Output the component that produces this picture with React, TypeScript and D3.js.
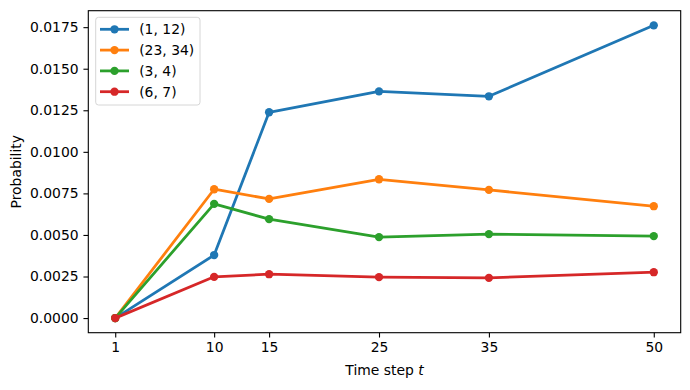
import React, { useEffect, useRef } from "react";
import * as d3 from "d3";

// time steps on the x axis
const steps = [1, 10, 15, 25, 35, 50];

// series names (legend)
const names = ["(1, 12)", "(23, 34)", "(3, 4)", "(6, 7)"];

// probability values, one array per series
const s1_12 = [0, 0.00379, 0.01238, 0.01364, 0.01334, 0.01761];
const s23_34 = [0, 0.00775, 0.00717, 0.00835, 0.00771, 0.00673];
const s3_4 = [0, 0.00687, 0.00595, 0.00487, 0.00505, 0.00493];
const s6_7 = [0, 0.00248, 0.00264, 0.00246, 0.00242, 0.00276];

const yTicks = [0, 0.0025, 0.005, 0.0075, 0.01, 0.0125, 0.015, 0.0175];

const colors = ["#1f77b4", "#ff7f0e", "#2ca02c", "#d62728"];

const App = () => {
  const svgRef = useRef<SVGSVGElement>(null);

  useEffect(() => {
    const svg = d3.select(svgRef.current);
    svg.selectAll("*").remove();

    const width = 690;
    const height = 390;
    const margin = { top: 10.7, right: 9.3, bottom: 57.3, left: 88.3 };
    const font = "DejaVu Sans, sans-serif";
    const fs = 13.9;

    const series = [s1_12, s23_34, s3_4, s6_7];

    // matplotlib default 5% margins
    const xMin = d3.min(steps)!, xMax = d3.max(steps)!;
    const xPad = (xMax - xMin) * 0.05;
    const yMax = d3.max(series.flat())!;
    const yPad = yMax * 0.05;

    const x = d3.scaleLinear()
      .domain([xMin - xPad, xMax + xPad])
      .range([margin.left, width - margin.right]);

    const y = d3.scaleLinear()
      .domain([-yPad, yMax + yPad])
      .range([height - margin.bottom, margin.top]);

    svg.attr("width", width).attr("height", height);

    const g = svg.append("g");

    // lines + markers
    const line = d3.line<number>()
      .x((_, i) => x(steps[i]))
      .y(d => y(d));

    series.forEach((vals, k) => {
      g.append("path")
        .datum(vals)
        .attr("d", line)
        .attr("fill", "none")
        .attr("stroke", colors[k])
        .attr("stroke-width", 2.78)
        .attr("stroke-linejoin", "round")
        .attr("stroke-linecap", "square");
      g.selectAll(null)
        .data(vals)
        .enter()
        .append("circle")
        .attr("cx", (_, i) => x(steps[i]))
        .attr("cy", d => y(d))
        .attr("r", 4.17)
        .attr("fill", colors[k]);
    });

    // axes
    const xAxis = svg.append("g")
      .attr("transform", `translate(0,${height - margin.bottom})`)
      .call(d3.axisBottom(x).tickValues(steps).tickFormat(d3.format("d")).tickSize(4.86).tickPadding(4.86).tickSizeOuter(0));

    const yAxis = svg.append("g")
      .attr("transform", `translate(${margin.left},0)`)
      .call(d3.axisLeft(y).tickValues(yTicks).tickFormat(d3.format(".4f")).tickSize(4.86).tickPadding(4.86).tickSizeOuter(0));

    [xAxis, yAxis].forEach(a => {
      a.select(".domain").remove();
      a.selectAll("line").attr("stroke", "black").attr("stroke-width", 1.1);
      a.selectAll("text").attr("fill", "black").style("font-family", font).style("font-size", fs + "px");
    });

    // frame
    svg.append("rect")
      .attr("x", margin.left)
      .attr("y", margin.top)
      .attr("width", width - margin.left - margin.right)
      .attr("height", height - margin.top - margin.bottom)
      .attr("fill", "none")
      .attr("stroke", "black")
      .attr("stroke-width", 1.1);

    // axis labels
    const xl = svg.append("text")
      .attr("x", (margin.left + width - margin.right) / 2)
      .attr("y", 375)
      .attr("text-anchor", "middle")
      .style("font-family", font)
      .style("font-size", fs + "px");
    xl.append("tspan").text("Time step ");
    xl.append("tspan").style("font-style", "italic").text("t");

    svg.append("text")
      .attr("transform", `translate(21,${(margin.top + height - margin.bottom) / 2}) rotate(-90)`)
      .attr("text-anchor", "middle")
      .style("font-family", font)
      .style("font-size", fs + "px")
      .text("Probability");

    // legend
    const lg = svg.append("g").attr("transform", "translate(95.7,17.3)");
    lg.append("rect")
      .attr("width", 104.3)
      .attr("height", 87.7)
      .attr("rx", 2.8)
      .attr("fill", "white")
      .attr("fill-opacity", 0.8)
      .attr("stroke", "#d6d6d6")
      .attr("stroke-width", 1);

    names.forEach((name, k) => {
      const ey = 12 + k * 20.8;
      lg.append("line")
        .attr("x1", 4.3).attr("x2", 33.3)
        .attr("y1", ey).attr("y2", ey)
        .attr("stroke", colors[k])
        .attr("stroke-width", 2.78);
      lg.append("circle")
        .attr("cx", 18.8).attr("cy", ey).attr("r", 4.17)
        .attr("fill", colors[k]);
      lg.append("text")
        .attr("x", 43.5)
        .attr("y", ey)
        .attr("dy", "0.35em")
        .style("font-family", font)
        .style("font-size", fs + "px")
        .text(name);
    });
  }, []);

  return <svg ref={svgRef} style={{ position: "absolute", left: 0, top: 0 }} />;
};

export default App;
